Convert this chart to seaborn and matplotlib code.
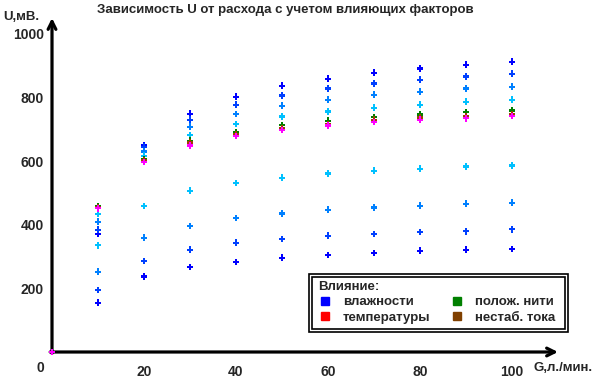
import numpy as np
import pandas as pd
import matplotlib
matplotlib.use("Agg")
import matplotlib.pyplot as plt
import seaborn as sns
from matplotlib.lines import Line2D
from matplotlib.patches import Rectangle

# расход, л/мин
flow = [0, 10, 20, 30, 40, 50, 60, 70, 80, 90, 100]

# верхняя группа (влажность, 4 уровня) + прочие факторы
up_dark = [0, 371, 649, 749, 802, 837, 859, 878, 891, 903, 912]
up_mid = [0, 384, 645, 730, 777, 806, 828, 844, 856, 866, 875]
up_light = [0, 409, 630, 708, 748, 774, 793, 809, 818, 828, 834]
up_cyan = [0, 434, 617, 682, 717, 740, 756, 768, 777, 787, 793]
nit = [0, 457, 606, 664, 691, 713, 727, 738, 747, 754, 759]
tok = [0, 455, 603, 659, 684, 704, 716, 730, 737, 741, 747]
temp = [0, 452, 597, 649, 679, 698, 712, 723, 730, 735, 742]

# нижняя группа (влажность)
lo_cyan = [0, 336, 459, 507, 531, 548, 561, 570, 576, 583, 586]
lo_light = [0, 252, 359, 396, 421, 435, 447, 454, 460, 466, 469]
lo_mid = [0, 195, 286, 321, 343, 355, 365, 371, 377, 380, 386]
lo_dark = [0, 155, 237, 267, 283, 296, 305, 311, 318, 321, 324]

series = {
    "lo_dark": lo_dark, "lo_mid": lo_mid, "lo_light": lo_light, "lo_cyan": lo_cyan,
    "up_dark": up_dark, "up_mid": up_mid, "up_light": up_light, "up_cyan": up_cyan,
    "nit": nit, "tok": tok, "temp": temp,
}
colors = {
    "lo_dark": "#0000FF", "lo_mid": "#0040FF", "lo_light": "#0080FF", "lo_cyan": "#00C0FF",
    "up_dark": "#0000FF", "up_mid": "#0040FF", "up_light": "#0080FF", "up_cyan": "#00C0FF",
    "nit": "#008000", "tok": "#A04000", "temp": "#FF00FF",
}

rows = []
for name, vals in series.items():
    for g, u in zip(flow, vals):
        rows.append({"G": g, "U": u, "ser": name})
df = pd.DataFrame(rows)

sns.set_style("white")
plt.rcParams['font.family'] = ['Liberation Sans', 'DejaVu Sans']
plt.rcParams['font.weight'] = 'bold'

fig = plt.figure(figsize=(5.93, 3.82), dpi=100)
W, H = 593, 382
ax = fig.add_axes([52 / W, 1 - 352 / H, 506 / W, 334 / H])

ax.set_xlim(0, 110)
ax.set_ylim(0, 1050)
for s in ax.spines.values():
    s.set_visible(False)

# оси со стрелками
arr = dict(arrowstyle="->", lw=2.3, color="black", mutation_scale=14, shrinkA=0, shrinkB=0)
ax.annotate("", xy=(110, 0), xytext=(-0.4, 0), arrowprops=arr, annotation_clip=False, zorder=1)
ax.annotate("", xy=(0, 1050), xytext=(0, -4), arrowprops=arr, annotation_clip=False, zorder=1)

sns.scatterplot(data=df, x="G", y="U", hue="ser", palette=colors,
                marker="P", s=24, linewidth=0, legend=False, ax=ax, clip_on=False, zorder=5)
ax.set_xlim(0, 110)
ax.set_ylim(0, 1050)

ax.set_yticks([200, 400, 600, 800, 1000])
ax.set_yticks([0, 100, 300, 500, 700, 900], minor=True)
ax.set_xticks([20, 40, 60, 80, 100])
ax.set_xticks([0, 10, 30, 50, 70, 90], minor=True)
ax.tick_params(axis="y", which="both", length=4, width=2, direction="out", pad=2, labelsize=10)
ax.tick_params(axis="x", which="both", length=2.5, width=2, direction="out", pad=7, labelsize=10)
for lab in ax.get_xticklabels() + ax.get_yticklabels():
    lab.set_fontweight("bold")
ax.set_xlabel("")
ax.set_ylabel("")

fig.text(40 / W, 1 - 368 / H, "0", ha="center", va="center", fontsize=10, fontweight="bold")
fig.text(3 / W, 1 - 17 / H, "U,мВ.", ha="left", va="center", fontsize=9.5, fontweight="bold")
fig.text(534 / W, 1 - 368 / H, "G,л./мин.", ha="left", va="center", fontsize=9.5, fontweight="bold")
fig.text(285 / W, 1 - 10 / H, "Зависимость U от расхода с учетом влияющих факторов",
         ha="center", va="center", fontsize=9.5, fontweight="bold")

# легенда
fig.add_artist(Rectangle((309 / W, 1 - 332 / H), 259 / W, 58 / H, transform=fig.transFigure,
                         fill=False, lw=1.2, ec="black"))
fig.add_artist(Rectangle((312 / W, 1 - 329 / H), 253 / W, 52 / H, transform=fig.transFigure,
                         fill=False, lw=1.2, ec="black"))
handles = [
    Line2D([], [], marker="s", ls="", color="#0000FF", markersize=6, label="влажности"),
    Line2D([], [], marker="s", ls="", color="#FF0000", markersize=6, label="температуры"),
    Line2D([], [], marker="s", ls="", color="#008000", markersize=6, label="полож. нити"),
    Line2D([], [], marker="s", ls="", color="#804000", markersize=6, label="нестаб. тока"),
]
leg = fig.legend(handles=handles, title="Влияние:", ncol=2, loc="upper left",
                 bbox_to_anchor=(310 / W, 1 - 273 / H), bbox_transform=fig.transFigure,
                 frameon=False, alignment="left", fontsize=9.5, title_fontsize=9.5,
                 handletextpad=0.9, columnspacing=1.5, labelspacing=0.25, borderpad=0.1,
                 handlelength=1.0)
leg.get_title().set_fontweight("bold")
for t in leg.get_texts():
    t.set_fontweight("bold")

fig.savefig("out.png", dpi=100)
